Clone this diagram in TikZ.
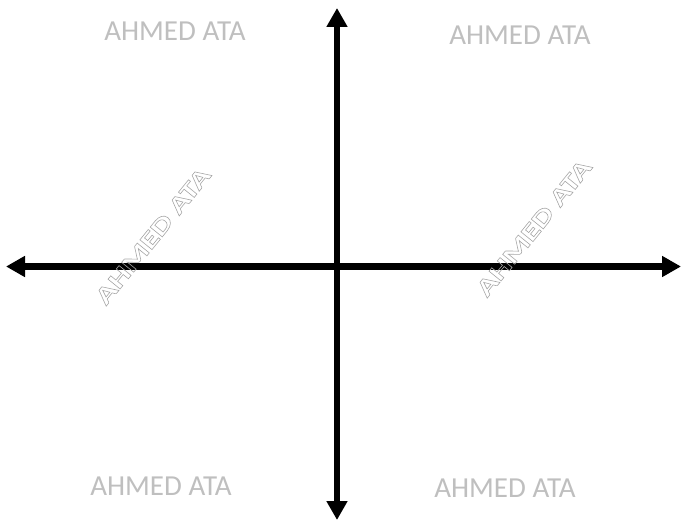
\documentclass[tikz,border=0pt]{standalone}
\usepackage{fontspec}
\setmainfont{Carlito}
\newfontfamily\widefont[FakeStretch=1.4]{Carlito}
\usetikzlibrary{arrows.meta, positioning}

\newcommand{\outlinetext}[1]{\special{pdf:literal direct 1 Tr 0.6 w}#1\special{pdf:literal direct 0 Tr}}

\begin{document}
\begin{tikzpicture}[
    x=1pt, y=-1pt,
    axis/.style={line width=6.5pt, {Triangle[length=19pt,width=20pt]}-{Triangle[length=19pt,width=20pt]}},
    mark text/.style={text=black!25, font=\fontsize{29}{33}\selectfont, inner sep=0pt},
    slant text/.style={text=black!35, font=\widefont\bfseries\fontsize{24}{28}\selectfont, inner sep=0pt, rotate=51}
]
    \useasboundingbox (0,0) rectangle (682,521);

    % axes
    \coordinate (W) at (6, 266.5);
    \coordinate (E) at (681, 266.5);
    \coordinate (N) at (337, 8);
    \coordinate (S) at (337, 520);
    \draw[axis] (W) -- (E);
    \draw[axis] (N) -- (S);

    % watermarks
    \node[mark text] (tl) at (175, 31) {AHMED ATA};
    \node[mark text] (tr) at (520, 35.5) {AHMED ATA};
    \node[mark text] (bl) at (161, 486.5) {AHMED ATA};
    \node[mark text] (br) at (505, 488) {AHMED ATA};
    \node[slant text] (ml) at (153, 236) {\outlinetext{AHMED ATA}};
    \node[slant text] (mr) at (534, 228) {\outlinetext{AHMED ATA}};
\end{tikzpicture}
\end{document}
